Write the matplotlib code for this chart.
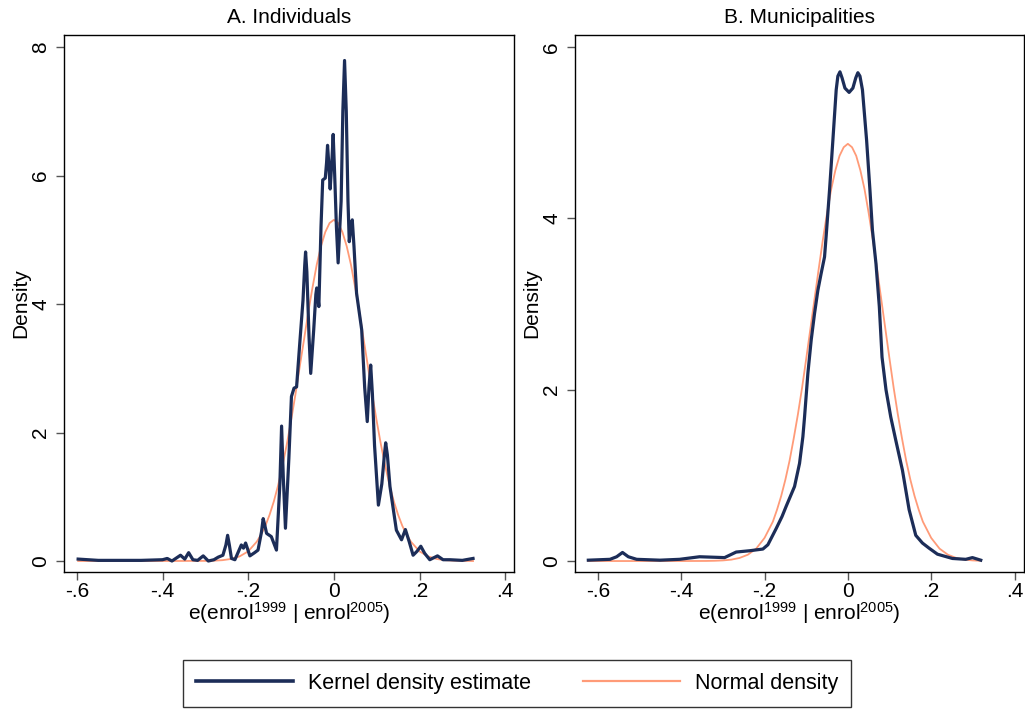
import matplotlib
matplotlib.use("Agg")
import matplotlib.pyplot as plt
from matplotlib.lines import Line2D

plt.rcParams['font.family'] = ['Liberation Sans', 'DejaVu Sans']
plt.rcParams['mathtext.fontset'] = 'custom'
plt.rcParams['mathtext.rm'] = 'Liberation Sans'
plt.rcParams['mathtext.it'] = 'Liberation Sans'

NAVY = '#1c2d58'
SALMON = '#ff9b78'

# Panel A: individuals -- kernel density
ind_kde_x = [-0.597, -0.55, -0.50, -0.45, -0.40, -0.389, -0.378, -0.358, -0.348, -0.339,
             -0.329, -0.318, -0.305, -0.293, -0.280, -0.270, -0.259, -0.252, -0.248, -0.244,
             -0.239, -0.231, -0.216, -0.211, -0.206, -0.196, -0.185, -0.177, -0.169, -0.165,
             -0.161, -0.157, -0.146, -0.134, -0.126, -0.122, -0.118, -0.113, -0.105, -0.099,
             -0.093, -0.087, -0.079, -0.072, -0.068, -0.066, -0.063, -0.058, -0.054, -0.047,
             -0.042, -0.040, -0.037, -0.035, -0.030, -0.026, -0.020, -0.017, -0.0147, -0.012,
             -0.0086, -0.004, -0.0016, 0.002, 0.006, 0.010, 0.014, 0.017, 0.021, 0.025,
             0.029, 0.033, 0.036, 0.040, 0.043, 0.047, 0.053, 0.065, 0.072, 0.078,
             0.082, 0.086, 0.090, 0.095, 0.104, 0.112, 0.118, 0.121, 0.125, 0.131,
             0.146, 0.158, 0.167, 0.176, 0.185, 0.194, 0.203, 0.212, 0.224, 0.242,
             0.255, 0.271, 0.300, 0.325]
ind_kde_y = [0.03, 0.01, 0.01, 0.01, 0.02, 0.04, 0.00, 0.09, 0.03, 0.13,
             0.02, 0.01, 0.08, 0.00, 0.02, 0.06, 0.09, 0.25, 0.40, 0.25,
             0.04, 0.02, 0.25, 0.20, 0.28, 0.08, 0.13, 0.17, 0.45, 0.66,
             0.55, 0.43, 0.38, 0.17, 1.20, 2.10, 1.30, 0.51, 1.60, 2.56,
             2.69, 2.71, 3.44, 4.06, 4.60, 4.81, 4.50, 3.50, 2.92, 3.60,
             4.15, 4.25, 4.10, 3.96, 5.20, 5.93, 5.96, 6.20, 6.47, 6.20,
             5.79, 6.30, 6.64, 6.00, 5.20, 4.64, 5.20, 5.60, 7.00, 7.79,
             7.00, 5.60, 4.97, 5.20, 5.31, 4.90, 4.17, 3.60, 2.70, 2.17,
             2.70, 3.05, 2.60, 1.80, 0.87, 1.20, 1.65, 1.84, 1.65, 1.16,
             0.48, 0.33, 0.49, 0.30, 0.09, 0.15, 0.23, 0.12, 0.02, 0.08,
             0.02, 0.02, 0.01, 0.04]

# Panel A: normal density
ind_norm_x = [-0.597, -0.40, -0.30, -0.28, -0.26, -0.24, -0.22, -0.20, -0.18, -0.17,
              -0.16, -0.15, -0.14, -0.13, -0.12, -0.11, -0.10, -0.09, -0.08, -0.07,
              -0.06, -0.05, -0.04, -0.03, -0.02, -0.01, 0.0, 0.01, 0.02, 0.03,
              0.04, 0.05, 0.06, 0.07, 0.08, 0.09, 0.10, 0.11, 0.12, 0.13,
              0.14, 0.15, 0.16, 0.17, 0.18, 0.20, 0.22, 0.24, 0.26, 0.28,
              0.30, 0.325]
ind_norm_y = [0.0, 0.0, 0.002, 0.005, 0.013, 0.032, 0.072, 0.15, 0.30, 0.41,
              0.545, 0.72, 0.93, 1.18, 1.48, 1.81, 2.18, 2.58, 3.01, 3.43,
              3.86, 4.25, 4.61, 4.90, 5.12, 5.26, 5.31, 5.26, 5.12, 4.90,
              4.61, 4.25, 3.86, 3.43, 3.01, 2.58, 2.18, 1.81, 1.48, 1.18,
              0.93, 0.72, 0.545, 0.41, 0.30, 0.15, 0.072, 0.032, 0.013, 0.005,
              0.002, 0.0]

# Panel B: municipalities -- kernel density
mun_kde_x = [-0.623, -0.571, -0.555, -0.541, -0.527, -0.507, -0.451, -0.404, -0.356, -0.296,
             -0.268, -0.236, -0.204, -0.192, -0.172, -0.158, -0.148, -0.128, -0.116, -0.108,
             -0.104, -0.096, -0.088, -0.080, -0.072, -0.064, -0.056, -0.052, -0.044, -0.036,
             -0.028, -0.024, -0.019, -0.014, -0.007, 0.003, 0.012, 0.019, 0.024, 0.029,
             0.035, 0.045, 0.053, 0.059, 0.0675, 0.0755, 0.082, 0.0915, 0.103, 0.115,
             0.131, 0.147, 0.163, 0.179, 0.195, 0.215, 0.251, 0.283, 0.299, 0.319]
mun_kde_y = [0.01, 0.02, 0.05, 0.10, 0.05, 0.02, 0.01, 0.02, 0.05, 0.04,
             0.105, 0.12, 0.14, 0.19, 0.38, 0.52, 0.64, 0.87, 1.14, 1.45,
             1.68, 2.19, 2.58, 2.89, 3.16, 3.36, 3.55, 3.80, 4.33, 4.91,
             5.50, 5.66, 5.71, 5.64, 5.52, 5.47, 5.52, 5.64, 5.70, 5.66,
             5.50, 4.91, 4.33, 3.86, 3.47, 2.97, 2.38, 2.00, 1.68, 1.41,
             1.06, 0.60, 0.30, 0.21, 0.15, 0.08, 0.03, 0.02, 0.04, 0.01]

# Panel B: normal density
mun_norm_x = [-0.623, -0.40, -0.34, -0.32, -0.30, -0.28, -0.26, -0.24, -0.22, -0.20,
              -0.18, -0.17, -0.16, -0.15, -0.14, -0.13, -0.12, -0.11, -0.10, -0.09,
              -0.08, -0.07, -0.06, -0.05, -0.04, -0.03, -0.02, -0.01, 0.0, 0.01,
              0.02, 0.03, 0.04, 0.05, 0.06, 0.07, 0.08, 0.09, 0.10, 0.11,
              0.12, 0.13, 0.14, 0.15, 0.16, 0.17, 0.18, 0.20, 0.22, 0.24,
              0.26, 0.28, 0.30, 0.319]
mun_norm_y = [0.0, 0.0, 0.001, 0.003, 0.007, 0.016, 0.036, 0.074, 0.145, 0.27,
              0.46, 0.60, 0.76, 0.95, 1.17, 1.43, 1.71, 2.02, 2.36, 2.71,
              3.06, 3.41, 3.75, 4.06, 4.34, 4.56, 4.73, 4.83, 4.87, 4.83,
              4.73, 4.56, 4.34, 4.06, 3.75, 3.41, 3.06, 2.71, 2.36, 2.02,
              1.71, 1.43, 1.17, 0.95, 0.76, 0.60, 0.46, 0.27, 0.145, 0.074,
              0.036, 0.016, 0.007, 0.003]

x_ticks = [-0.6, -0.4, -0.2, 0.0, 0.2, 0.4]
x_ticklabels = ['-.6', '-.4', '-.2', '0', '.2', '.4']
xlabel = r'e(enrol$^{1999}$ | enrol$^{2005}$)'
FS = 15

fig = plt.figure(figsize=(10.25, 7.09), dpi=100)
W, H = 1025.0, 709.0

ax1 = fig.add_axes([64 / W, (H - 572) / H, 450 / W, 537 / H])
ax2 = fig.add_axes([575 / W, (H - 572) / H, 449 / W, 537 / H])

panels = [
    (ax1, ind_kde_x, ind_kde_y, ind_norm_x, ind_norm_y, 'A. Individuals',
     [0, 2, 4, 6, 8], (-0.630, 0.4206), (-0.171, 8.187)),
    (ax2, mun_kde_x, mun_kde_y, mun_norm_x, mun_norm_y, 'B. Municipalities',
     [0, 2, 4, 6], (-0.655, 0.4228), (-0.128, 6.14)),
]

for ax, kx, ky, nx, ny, title, yticks, xlim, ylim in panels:
    ax.plot(kx, ky, color=NAVY, lw=2.3, solid_joinstyle='round', zorder=3)
    ax.plot(nx, ny, color=SALMON, lw=1.3, zorder=2)
    ax.set_xlim(*xlim)
    ax.set_ylim(*ylim)
    ax.set_xticks(x_ticks)
    ax.set_xticklabels(x_ticklabels)
    ax.set_yticks(yticks)
    ax.set_yticklabels([str(t) for t in yticks], rotation=90, va='center')
    ax.tick_params(direction='out', length=6, width=1.0, color='#555555',
                   labelsize=FS)
    ax.tick_params(axis='x', pad=1.5)
    ax.tick_params(axis='y', pad=4)
    for s in ax.spines.values():
        s.set_linewidth(1.0)
        s.set_color('black')
    ax.set_xlabel(xlabel, fontsize=FS)
    ax.xaxis.set_label_coords(0.5, -0.052)
    ax.set_ylabel('Density', fontsize=FS)
    ax.yaxis.set_label_coords(-0.076, 0.5)
    ax.text(0.5, 1.032, title, transform=ax.transAxes, ha='center', va='center',
            fontsize=FS)

handles = [Line2D([], [], color=NAVY, lw=2.6),
           Line2D([], [], color=SALMON, lw=1.6)]
leg = fig.legend(handles, ['Kernel density estimate', 'Normal density'],
                 loc='upper center', bbox_to_anchor=(517 / W, (H - 660) / H),
                 ncol=2, fontsize=15.5, frameon=True, fancybox=False,
                 edgecolor='black', handlelength=4.5, handletextpad=0.7,
                 columnspacing=2.4, borderpad=0.6, borderaxespad=0)
leg.get_frame().set_linewidth(1.0)

fig.savefig('out.png', dpi=100)
